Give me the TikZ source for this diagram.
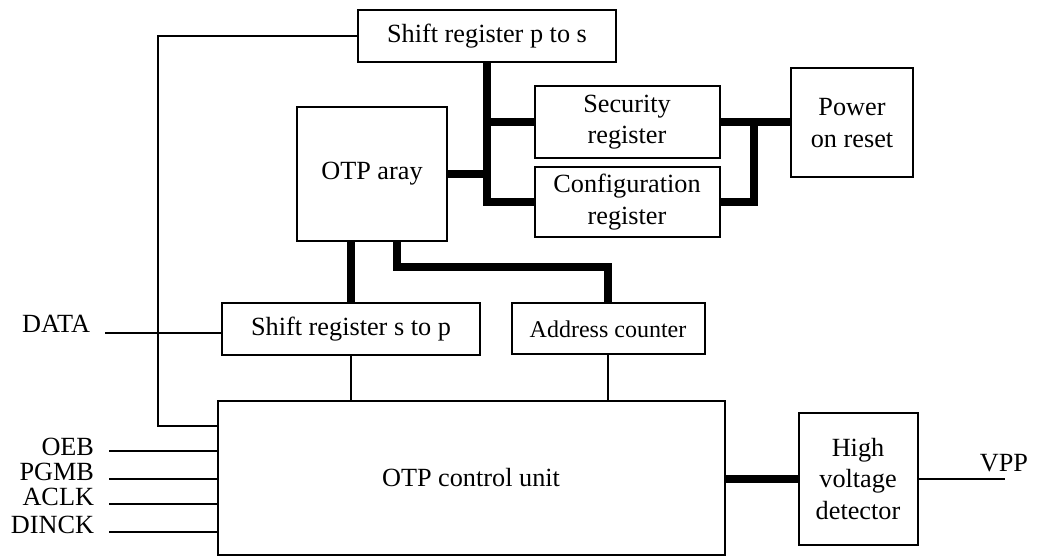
\documentclass[tikz,border=0pt]{standalone}
\usepackage{fontspec}
\setmainfont{Liberation Serif}
\usepackage{tikz}
\usetikzlibrary{calc}

\begin{document}
\begin{tikzpicture}[x=0.4pt, y=-0.4pt, thick,
		every node/.style={font=\fontsize{10.5}{12.6}\selectfont},
		blk/.style 2 args={draw, line width=0.8pt, align=center, inner sep=0pt,
			minimum width=#1*0.4pt, minimum height=#2*0.4pt},
		pin/.style={anchor=base east, inner sep=0pt},
		wire/.style={line width=0.8pt},
		bus/.style={line width=3.2pt, line join=miter}]
		\useasboundingbox (0,0) rectangle (1038,557);
		% registers and array
		\node[blk={258}{52}] (srps) at (487,36) {Shift register p to s};
		\node[blk={150}{134}] (otp) at (372,174) {OTP aray};
		\node[blk={185}{72}] (sec) at (627,122) {Security\\register};
		\node[blk={185}{70}] (conf) at (627,202) {Configuration\\register};
		\node[blk={122}{109}] (por) at (852,123) {Power\\on reset};
		\node[blk={258}{52}] (srsp) at (351,329) {Shift register s to p};
		\node[blk={193}{51}, font=\fontsize{9.6}{11.5}\selectfont] (addr) at (608,329) {Address counter};
		% control
		\node[blk={507}{154}] (ctrl) at (471,478) {OTP control unit};
		\node[blk={119}{132}] (hv) at (858,479) {High\\voltage\\detector};
		% bends
		\coordinate (porJoin) at (754,122);
		\coordinate (otpTap) at (397,241);
		\coordinate (addrBend) at (608,267);
		\coordinate (loopCorner) at (158,426);
		\coordinate (dataIn) at (105,333);
		\coordinate (vppEnd) at (1005,478);
		% thick buses
		\draw[bus] (srps.south) |- (conf.west);
		\draw[bus] (otp.east) -- (otp.east -| srps.south);
		\draw[bus] (sec.west) -- (sec.west -| srps.south);
		\draw[bus] (sec.east) -- (sec.east -| por.west);
		\draw[bus] (conf.east) -| (porJoin);
		\draw[bus] (otp.south -| srsp.north) -- (srsp.north);
		\draw[bus] (otpTap) |- (addrBend) -- (addr.north);
		\draw[bus] (hv.west) -- (hv.west -| ctrl.east);
		% thin wires
		\draw[wire] (srsp.south) -- (srsp.south |- ctrl.north);
		\draw[wire] (addr.south) -- (addr.south |- ctrl.north);
		\draw[wire] (srps.west) -| (loopCorner) -- (loopCorner -| ctrl.west);
		\draw[wire] (dataIn) -- (dataIn -| srsp.west);
		\node[pin] (dataLbl) at (91,333) {DATA};
		\foreach \name/\wy/\by in {OEB/451/456, PGMB/479/481, ACLK/504/506, DINCK/532/533} {
			\coordinate (in\name) at (109,\wy);
			\draw[wire] (in\name) -- (in\name -| ctrl.west);
			\node[pin] (lbl\name) at (95,\by) {\name};
		}
		\draw[wire] (hv.east) -- (hv.east -| vppEnd);
		\node[anchor=base, inner sep=0pt] (vppLbl) at (1004,472) {VPP};
	\end{tikzpicture}
\end{document}
